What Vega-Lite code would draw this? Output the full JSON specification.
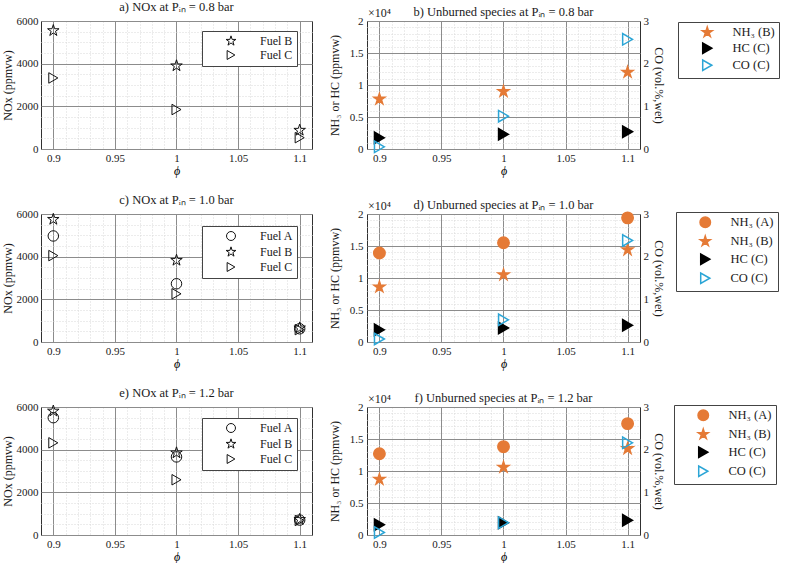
{
  "$schema": "https://vega.github.io/schema/vega-lite/v6.json",
  "padding": {"left": 0, "top": 0, "right": 2, "bottom": 0},
  "background": "white",
  "datasets": {
    "nox": [
      {"p": "0.8", "fuel": "Fuel B", "phi": 0.9, "nox": 5550},
      {"p": "0.8", "fuel": "Fuel B", "phi": 1.0, "nox": 3900},
      {"p": "0.8", "fuel": "Fuel B", "phi": 1.1, "nox": 880},
      {"p": "0.8", "fuel": "Fuel C", "phi": 0.9, "nox": 3330},
      {"p": "0.8", "fuel": "Fuel C", "phi": 1.0, "nox": 1850},
      {"p": "0.8", "fuel": "Fuel C", "phi": 1.1, "nox": 530},
      {"p": "1.0", "fuel": "Fuel A", "phi": 0.9, "nox": 4970},
      {"p": "1.0", "fuel": "Fuel A", "phi": 1.0, "nox": 2730},
      {"p": "1.0", "fuel": "Fuel A", "phi": 1.1, "nox": 620},
      {"p": "1.0", "fuel": "Fuel B", "phi": 0.9, "nox": 5750},
      {"p": "1.0", "fuel": "Fuel B", "phi": 1.0, "nox": 3830},
      {"p": "1.0", "fuel": "Fuel B", "phi": 1.1, "nox": 660},
      {"p": "1.0", "fuel": "Fuel C", "phi": 0.9, "nox": 4050},
      {"p": "1.0", "fuel": "Fuel C", "phi": 1.0, "nox": 2260},
      {"p": "1.0", "fuel": "Fuel C", "phi": 1.1, "nox": 580},
      {"p": "1.2", "fuel": "Fuel A", "phi": 0.9, "nox": 5500},
      {"p": "1.2", "fuel": "Fuel A", "phi": 1.0, "nox": 3660},
      {"p": "1.2", "fuel": "Fuel A", "phi": 1.1, "nox": 700},
      {"p": "1.2", "fuel": "Fuel B", "phi": 0.9, "nox": 5810},
      {"p": "1.2", "fuel": "Fuel B", "phi": 1.0, "nox": 3850},
      {"p": "1.2", "fuel": "Fuel B", "phi": 1.1, "nox": 730},
      {"p": "1.2", "fuel": "Fuel C", "phi": 0.9, "nox": 4320},
      {"p": "1.2", "fuel": "Fuel C", "phi": 1.0, "nox": 2590},
      {"p": "1.2", "fuel": "Fuel C", "phi": 1.1, "nox": 680}
    ],
    "unb": [
      {"p": "0.8", "species": "NH₃ (B)", "phi": 0.9, "value": 7800},
      {"p": "0.8", "species": "NH₃ (B)", "phi": 1.0, "value": 9000},
      {"p": "0.8", "species": "NH₃ (B)", "phi": 1.1, "value": 12000},
      {"p": "0.8", "species": "HC (C)", "phi": 0.9, "value": 1750},
      {"p": "0.8", "species": "HC (C)", "phi": 1.0, "value": 2300},
      {"p": "0.8", "species": "HC (C)", "phi": 1.1, "value": 2700},
      {"p": "0.8", "species": "CO (C)", "phi": 0.9, "value": 0.05},
      {"p": "0.8", "species": "CO (C)", "phi": 1.0, "value": 0.77},
      {"p": "0.8", "species": "CO (C)", "phi": 1.1, "value": 2.57},
      {"p": "1.0", "species": "NH₃ (A)", "phi": 0.9, "value": 13900},
      {"p": "1.0", "species": "NH₃ (A)", "phi": 1.0, "value": 15500},
      {"p": "1.0", "species": "NH₃ (A)", "phi": 1.1, "value": 19400},
      {"p": "1.0", "species": "NH₃ (B)", "phi": 0.9, "value": 8600},
      {"p": "1.0", "species": "NH₃ (B)", "phi": 1.0, "value": 10500},
      {"p": "1.0", "species": "NH₃ (B)", "phi": 1.1, "value": 14400},
      {"p": "1.0", "species": "HC (C)", "phi": 0.9, "value": 1900},
      {"p": "1.0", "species": "HC (C)", "phi": 1.0, "value": 2200},
      {"p": "1.0", "species": "HC (C)", "phi": 1.1, "value": 2600},
      {"p": "1.0", "species": "CO (C)", "phi": 0.9, "value": 0.07},
      {"p": "1.0", "species": "CO (C)", "phi": 1.0, "value": 0.52},
      {"p": "1.0", "species": "CO (C)", "phi": 1.1, "value": 2.38},
      {"p": "1.2", "species": "NH₃ (A)", "phi": 0.9, "value": 12700},
      {"p": "1.2", "species": "NH₃ (A)", "phi": 1.0, "value": 13800},
      {"p": "1.2", "species": "NH₃ (A)", "phi": 1.1, "value": 17400},
      {"p": "1.2", "species": "NH₃ (B)", "phi": 0.9, "value": 8700},
      {"p": "1.2", "species": "NH₃ (B)", "phi": 1.0, "value": 10600},
      {"p": "1.2", "species": "NH₃ (B)", "phi": 1.1, "value": 13500},
      {"p": "1.2", "species": "HC (C)", "phi": 0.9, "value": 1600},
      {"p": "1.2", "species": "HC (C)", "phi": 1.0, "value": 1900},
      {"p": "1.2", "species": "HC (C)", "phi": 1.1, "value": 2300},
      {"p": "1.2", "species": "CO (C)", "phi": 0.9, "value": 0.06},
      {"p": "1.2", "species": "CO (C)", "phi": 1.0, "value": 0.29},
      {"p": "1.2", "species": "CO (C)", "phi": 1.1, "value": 2.16}
    ],
    "mult": [{"t": "×10⁴", "phi": 0.89, "value": 20000}]
  },
  "config": {
    "font": "Liberation Serif",
    "view": {"stroke": "#303030", "strokeWidth": 1},
    "axis": {
      "domain": false, "ticks": false, "labelFontSize": 11, "titleFontSize": 12,
      "titleFontWeight": "normal", "labelColor": "#1a1a1a", "titleColor": "#1a1a1a",
      "labelOverlap": false, "labelFlush": false, "labelFont": "Liberation Serif", "titleFont": "Liberation Serif"
    },
    "axisX": {"titleColor": "#000000"},
    "title": {"fontSize": 12.5, "fontWeight": "normal", "offset": 2, "color": "#1a1a1a", "font": "Liberation Serif"},
    "legend": {"labelFontSize": 12, "labelFont": "Liberation Serif", "labelColor": "#1a1a1a"}
  },
  "resolve": {
    "scale": {"shape": "independent", "fill": "independent", "stroke": "independent"},
    "legend": {"shape": "independent", "fill": "independent", "stroke": "independent"}
  },
  "vconcat": [
    {
      "resolve": {
        "scale": {"shape": "independent", "fill": "independent", "stroke": "independent"},
        "legend": {"shape": "independent", "fill": "independent", "stroke": "independent"}
      },
      "hconcat": [
        {
          "width": 271, "height": 128,
          "title": "a) NOx at Pᵢₙ = 0.8 bar",
          "data": {"name": "nox"},
          "transform": [{"filter": "datum.p == '0.8'"}],
          "mark": {"type": "point", "size": 110, "strokeWidth": 1, "filled": false, "color": "#111", "opacity": 1},
          "encoding": {
            "x": {"field": "phi", "type": "quantitative", "scale": {"domain": [0.89, 1.11], "nice": false, "zero": false},
              "axis": {"values": [0.9,0.91,0.92,0.93,0.94,0.95,0.96,0.97,0.98,0.99,1,1.01,1.02,1.03,1.04,1.05,1.06,1.07,1.08,1.09,1.1], "format": "~g",
                "labelExpr": "abs(datum.value*20-round(datum.value*20))<1e-6 ? datum.label : ''",
                "title": "ϕ", "titleFontStyle": "italic", "labelPadding": 3, "titlePadding": 2,
                "gridColor": {"condition": {"test": "abs(datum.value*20-round(datum.value*20))<1e-6", "value": "#8c8c8c"}, "value": "#d9d9d9"},
                "gridDash": {"condition": {"test": "abs(datum.value*20-round(datum.value*20))<1e-6", "value": []}, "value": [1, 2]}}},
            "y": {"field": "nox", "type": "quantitative", "scale": {"domain": [0, 6000], "nice": false},
              "axis": {"values": [0,500,1000,1500,2000,2500,3000,3500,4000,4500,5000,5500,6000], "format": "d",
                "labelExpr": "datum.value % 2000 == 0 ? datum.label : ''",
                "title": "NOx (ppmvw)", "labelPadding": 3, "titlePadding": 2,
                "gridColor": {"condition": {"test": "datum.value % 2000 == 0", "value": "#8c8c8c"}, "value": "#d9d9d9"},
                "gridDash": {"condition": {"test": "datum.value % 2000 == 0", "value": []}, "value": [1, 2]}}},
            "shape": {"field": "fuel", "type": "nominal",
              "scale": {"domain": ["Fuel B", "Fuel C"], "range": ["M0,-1.15L0.258,-0.355L1.094,-0.355L0.417,0.136L0.676,0.93L0,0.439L-0.676,0.93L-0.417,0.136L-1.094,-0.355L-0.258,-0.355Z", "triangle-right"]},
              "legend": {"title": null, "orient": "none", "legendX": 161, "legendY": 10, "strokeColor": "#444", "fillColor": "#fff", "padding": 4, "symbolOffset": 19, "labelOffset": 23, "rowPadding": 0, "symbolSize": 80, "symbolStrokeWidth": 1, "symbolStrokeColor": "#111", "symbolFillColor": "transparent"}}
          }
        },
        {
          "width": 273, "height": 128,
          "title": {"text": "b) Unburned species at Pᵢₙ = 0.8 bar", "offset": -11},
          "layer": [
            {
              "layer": [
                {
                  "data": {"name": "unb"},
                  "transform": [{"filter": "datum.p == '0.8' && datum.species != 'CO (C)'"}],
                  "mark": {"type": "point", "size": 130, "strokeWidth": 1.5, "opacity": 1},
                  "encoding": {
                    "x": {"field": "phi", "type": "quantitative", "scale": {"domain": [0.89, 1.11], "nice": false, "zero": false},
                      "axis": {"values": [0.9,0.91,0.92,0.93,0.94,0.95,0.96,0.97,0.98,0.99,1,1.01,1.02,1.03,1.04,1.05,1.06,1.07,1.08,1.09,1.1], "format": "~g",
                        "labelExpr": "abs(datum.value*20-round(datum.value*20))<1e-6 ? datum.label : ''",
                        "title": "ϕ", "titleFontStyle": "italic", "labelPadding": 3, "titlePadding": 2,
                        "gridColor": {"condition": {"test": "abs(datum.value*20-round(datum.value*20))<1e-6", "value": "#8c8c8c"}, "value": "#d9d9d9"},
                        "gridDash": {"condition": {"test": "abs(datum.value*20-round(datum.value*20))<1e-6", "value": []}, "value": [1, 2]}}},
                    "y": {"field": "value", "type": "quantitative", "scale": {"domain": [0, 20000], "nice": false},
                      "axis": {"orient": "left", "values": [0,1000,2000,3000,4000,5000,6000,7000,8000,9000,10000,11000,12000,13000,14000,15000,16000,17000,18000,19000,20000],
                        "labelExpr": "datum.value % 5000 == 0 ? format(datum.value/10000, '~g') : ''",
                        "title": "NH₃ or HC (ppmvw)", "labelPadding": 4, "titlePadding": 8,
                        "gridColor": {"condition": {"test": "datum.value % 5000 == 0", "value": "#8c8c8c"}, "value": "#d9d9d9"},
                        "gridDash": {"condition": {"test": "datum.value % 5000 == 0", "value": []}, "value": [1, 2]}}},
                    "shape": {"field": "species", "type": "nominal", "scale": {"domain": ["NH₃ (B)", "HC (C)", "CO (C)"], "range": ["M0,-1L0.225,-0.309L0.951,-0.309L0.363,0.118L0.588,0.809L0,0.382L-0.588,0.809L-0.363,0.118L-0.951,-0.309L-0.225,-0.309Z", "triangle-right", "triangle-right"]},
                      "legend": {"title": null, "orient": "none", "legendX": 311, "legendY": 1, "strokeColor": "#444", "fillColor": "#fff", "padding": 4, "symbolOffset": 19, "labelOffset": 19, "rowPadding": 0, "symbolSize": 110, "symbolStrokeWidth": 1.5, "labelFontSize": 12.5}},
                    "fill": {"field": "species", "type": "nominal", "scale": {"domain": ["NH₃ (B)", "HC (C)", "CO (C)"], "range": ["#E57A36", "#000000", "transparent"]},
                      "legend": {"title": null, "orient": "none", "legendX": 311, "legendY": 1, "strokeColor": "#444", "fillColor": "#fff", "padding": 4, "symbolOffset": 19, "labelOffset": 19, "rowPadding": 0, "symbolSize": 110, "symbolStrokeWidth": 1.5, "labelFontSize": 12.5}},
                    "stroke": {"field": "species", "type": "nominal", "scale": {"domain": ["NH₃ (B)", "HC (C)", "CO (C)"], "range": ["#E57A36", "#000000", "#2BA5D6"]},
                      "legend": {"title": null, "orient": "none", "legendX": 311, "legendY": 1, "strokeColor": "#444", "fillColor": "#fff", "padding": 4, "symbolOffset": 19, "labelOffset": 19, "rowPadding": 0, "symbolSize": 110, "symbolStrokeWidth": 1.5, "labelFontSize": 12.5}}
                  }
                },
                {
                  "data": {"name": "mult"},
                  "mark": {"type": "text", "align": "left", "baseline": "bottom", "dy": -1, "dx": 1, "fontSize": 12, "color": "#1a1a1a"},
                  "encoding": {
                    "x": {"field": "phi", "type": "quantitative", "scale": {"domain": [0.89, 1.11], "nice": false, "zero": false},
                      "axis": {"values": [0.9,0.91,0.92,0.93,0.94,0.95,0.96,0.97,0.98,0.99,1,1.01,1.02,1.03,1.04,1.05,1.06,1.07,1.08,1.09,1.1], "format": "~g",
                        "labelExpr": "abs(datum.value*20-round(datum.value*20))<1e-6 ? datum.label : ''",
                        "title": "ϕ", "titleFontStyle": "italic", "labelPadding": 3, "titlePadding": 2,
                        "gridColor": {"condition": {"test": "abs(datum.value*20-round(datum.value*20))<1e-6", "value": "#8c8c8c"}, "value": "#d9d9d9"},
                        "gridDash": {"condition": {"test": "abs(datum.value*20-round(datum.value*20))<1e-6", "value": []}, "value": [1, 2]}}},
                    "y": {"field": "value", "type": "quantitative", "scale": {"domain": [0, 20000], "nice": false},
                      "axis": {"orient": "left", "values": [0,1000,2000,3000,4000,5000,6000,7000,8000,9000,10000,11000,12000,13000,14000,15000,16000,17000,18000,19000,20000],
                        "labelExpr": "datum.value % 5000 == 0 ? format(datum.value/10000, '~g') : ''",
                        "title": "NH₃ or HC (ppmvw)", "labelPadding": 4, "titlePadding": 8,
                        "gridColor": {"condition": {"test": "datum.value % 5000 == 0", "value": "#8c8c8c"}, "value": "#d9d9d9"},
                        "gridDash": {"condition": {"test": "datum.value % 5000 == 0", "value": []}, "value": [1, 2]}}},
                    "text": {"field": "t"}
                  }
                }
              ]
            },
            {
              "data": {"name": "unb"},
              "transform": [{"filter": "datum.p == '0.8' && datum.species == 'CO (C)'"}],
              "mark": {"type": "point", "size": 130, "strokeWidth": 1.5, "opacity": 1},
              "encoding": {
                "x": {"field": "phi", "type": "quantitative", "scale": {"domain": [0.89, 1.11], "nice": false, "zero": false},
                  "axis": {"values": [0.9,0.91,0.92,0.93,0.94,0.95,0.96,0.97,0.98,0.99,1,1.01,1.02,1.03,1.04,1.05,1.06,1.07,1.08,1.09,1.1], "format": "~g",
                    "labelExpr": "abs(datum.value*20-round(datum.value*20))<1e-6 ? datum.label : ''",
                    "title": "ϕ", "titleFontStyle": "italic", "labelPadding": 3, "titlePadding": 2,
                    "gridColor": {"condition": {"test": "abs(datum.value*20-round(datum.value*20))<1e-6", "value": "#8c8c8c"}, "value": "#d9d9d9"},
                    "gridDash": {"condition": {"test": "abs(datum.value*20-round(datum.value*20))<1e-6", "value": []}, "value": [1, 2]}}},
                "y": {"field": "value", "type": "quantitative", "scale": {"domain": [0, 3], "nice": false},
                  "axis": {"orient": "right", "values": [0, 1, 2, 3], "format": "d", "grid": false, "title": "CO (vol.%,wet)", "labelPadding": 3, "titlePadding": 3}},
                "shape": {"field": "species", "type": "nominal"},
                "fill": {"field": "species", "type": "nominal"},
                "stroke": {"field": "species", "type": "nominal"}
              }
            }
          ],
          "resolve": {"scale": {"y": "independent"}}
        }
      ],
      "spacing": 14
    },
    {
      "resolve": {
        "scale": {"shape": "independent", "fill": "independent", "stroke": "independent"},
        "legend": {"shape": "independent", "fill": "independent", "stroke": "independent"}
      },
      "hconcat": [
        {
          "width": 271, "height": 128,
          "title": "c) NOx at Pᵢₙ = 1.0 bar",
          "data": {"name": "nox"},
          "transform": [{"filter": "datum.p == '1.0'"}],
          "mark": {"type": "point", "size": 110, "strokeWidth": 1, "filled": false, "color": "#111", "opacity": 1},
          "encoding": {
            "x": {"field": "phi", "type": "quantitative", "scale": {"domain": [0.89, 1.11], "nice": false, "zero": false},
              "axis": {"values": [0.9,0.91,0.92,0.93,0.94,0.95,0.96,0.97,0.98,0.99,1,1.01,1.02,1.03,1.04,1.05,1.06,1.07,1.08,1.09,1.1], "format": "~g",
                "labelExpr": "abs(datum.value*20-round(datum.value*20))<1e-6 ? datum.label : ''",
                "title": "ϕ", "titleFontStyle": "italic", "labelPadding": 3, "titlePadding": 2,
                "gridColor": {"condition": {"test": "abs(datum.value*20-round(datum.value*20))<1e-6", "value": "#8c8c8c"}, "value": "#d9d9d9"},
                "gridDash": {"condition": {"test": "abs(datum.value*20-round(datum.value*20))<1e-6", "value": []}, "value": [1, 2]}}},
            "y": {"field": "nox", "type": "quantitative", "scale": {"domain": [0, 6000], "nice": false},
              "axis": {"values": [0,500,1000,1500,2000,2500,3000,3500,4000,4500,5000,5500,6000], "format": "d",
                "labelExpr": "datum.value % 2000 == 0 ? datum.label : ''",
                "title": "NOx (ppmvw)", "labelPadding": 3, "titlePadding": 2,
                "gridColor": {"condition": {"test": "datum.value % 2000 == 0", "value": "#8c8c8c"}, "value": "#d9d9d9"},
                "gridDash": {"condition": {"test": "datum.value % 2000 == 0", "value": []}, "value": [1, 2]}}},
            "shape": {"field": "fuel", "type": "nominal",
              "scale": {"domain": ["Fuel A", "Fuel B", "Fuel C"], "range": ["circle", "M0,-1.15L0.258,-0.355L1.094,-0.355L0.417,0.136L0.676,0.93L0,0.439L-0.676,0.93L-0.417,0.136L-1.094,-0.355L-0.258,-0.355Z", "triangle-right"]},
              "legend": {"title": null, "orient": "none", "legendX": 161, "legendY": 12, "strokeColor": "#444", "fillColor": "#fff", "padding": 4, "symbolOffset": 19, "labelOffset": 23, "rowPadding": 1, "symbolSize": 80, "symbolStrokeWidth": 1, "symbolStrokeColor": "#111", "symbolFillColor": "transparent"}}
          }
        },
        {
          "width": 273, "height": 128,
          "title": {"text": "d) Unburned species at Pᵢₙ = 1.0 bar", "offset": -11},
          "layer": [
            {
              "layer": [
                {
                  "data": {"name": "unb"},
                  "transform": [{"filter": "datum.p == '1.0' && datum.species != 'CO (C)'"}],
                  "mark": {"type": "point", "size": 130, "strokeWidth": 1.5, "opacity": 1},
                  "encoding": {
                    "x": {"field": "phi", "type": "quantitative", "scale": {"domain": [0.89, 1.11], "nice": false, "zero": false},
                      "axis": {"values": [0.9,0.91,0.92,0.93,0.94,0.95,0.96,0.97,0.98,0.99,1,1.01,1.02,1.03,1.04,1.05,1.06,1.07,1.08,1.09,1.1], "format": "~g",
                        "labelExpr": "abs(datum.value*20-round(datum.value*20))<1e-6 ? datum.label : ''",
                        "title": "ϕ", "titleFontStyle": "italic", "labelPadding": 3, "titlePadding": 2,
                        "gridColor": {"condition": {"test": "abs(datum.value*20-round(datum.value*20))<1e-6", "value": "#8c8c8c"}, "value": "#d9d9d9"},
                        "gridDash": {"condition": {"test": "abs(datum.value*20-round(datum.value*20))<1e-6", "value": []}, "value": [1, 2]}}},
                    "y": {"field": "value", "type": "quantitative", "scale": {"domain": [0, 20000], "nice": false},
                      "axis": {"orient": "left", "values": [0,1000,2000,3000,4000,5000,6000,7000,8000,9000,10000,11000,12000,13000,14000,15000,16000,17000,18000,19000,20000],
                        "labelExpr": "datum.value % 5000 == 0 ? format(datum.value/10000, '~g') : ''",
                        "title": "NH₃ or HC (ppmvw)", "labelPadding": 4, "titlePadding": 8,
                        "gridColor": {"condition": {"test": "datum.value % 5000 == 0", "value": "#8c8c8c"}, "value": "#d9d9d9"},
                        "gridDash": {"condition": {"test": "datum.value % 5000 == 0", "value": []}, "value": [1, 2]}}},
                    "shape": {"field": "species", "type": "nominal", "scale": {"domain": ["NH₃ (A)", "NH₃ (B)", "HC (C)", "CO (C)"], "range": ["circle", "M0,-1L0.225,-0.309L0.951,-0.309L0.363,0.118L0.588,0.809L0,0.382L-0.588,0.809L-0.363,0.118L-0.951,-0.309L-0.225,-0.309Z", "triangle-right", "triangle-right"]},
                      "legend": {"title": null, "orient": "none", "legendX": 309, "legendY": -2, "strokeColor": "#444", "fillColor": "#fff", "padding": 4, "symbolOffset": 19, "labelOffset": 19, "rowPadding": 2, "symbolSize": 110, "symbolStrokeWidth": 1.5, "labelFontSize": 12.5}},
                    "fill": {"field": "species", "type": "nominal", "scale": {"domain": ["NH₃ (A)", "NH₃ (B)", "HC (C)", "CO (C)"], "range": ["#E57A36", "#E57A36", "#000000", "transparent"]},
                      "legend": {"title": null, "orient": "none", "legendX": 309, "legendY": -2, "strokeColor": "#444", "fillColor": "#fff", "padding": 4, "symbolOffset": 19, "labelOffset": 19, "rowPadding": 2, "symbolSize": 110, "symbolStrokeWidth": 1.5, "labelFontSize": 12.5}},
                    "stroke": {"field": "species", "type": "nominal", "scale": {"domain": ["NH₃ (A)", "NH₃ (B)", "HC (C)", "CO (C)"], "range": ["#E57A36", "#E57A36", "#000000", "#2BA5D6"]},
                      "legend": {"title": null, "orient": "none", "legendX": 309, "legendY": -2, "strokeColor": "#444", "fillColor": "#fff", "padding": 4, "symbolOffset": 19, "labelOffset": 19, "rowPadding": 2, "symbolSize": 110, "symbolStrokeWidth": 1.5, "labelFontSize": 12.5}}
                  }
                },
                {
                  "data": {"name": "mult"},
                  "mark": {"type": "text", "align": "left", "baseline": "bottom", "dy": -1, "dx": 1, "fontSize": 12, "color": "#1a1a1a"},
                  "encoding": {
                    "x": {"field": "phi", "type": "quantitative", "scale": {"domain": [0.89, 1.11], "nice": false, "zero": false},
                      "axis": {"values": [0.9,0.91,0.92,0.93,0.94,0.95,0.96,0.97,0.98,0.99,1,1.01,1.02,1.03,1.04,1.05,1.06,1.07,1.08,1.09,1.1], "format": "~g",
                        "labelExpr": "abs(datum.value*20-round(datum.value*20))<1e-6 ? datum.label : ''",
                        "title": "ϕ", "titleFontStyle": "italic", "labelPadding": 3, "titlePadding": 2,
                        "gridColor": {"condition": {"test": "abs(datum.value*20-round(datum.value*20))<1e-6", "value": "#8c8c8c"}, "value": "#d9d9d9"},
                        "gridDash": {"condition": {"test": "abs(datum.value*20-round(datum.value*20))<1e-6", "value": []}, "value": [1, 2]}}},
                    "y": {"field": "value", "type": "quantitative", "scale": {"domain": [0, 20000], "nice": false},
                      "axis": {"orient": "left", "values": [0,1000,2000,3000,4000,5000,6000,7000,8000,9000,10000,11000,12000,13000,14000,15000,16000,17000,18000,19000,20000],
                        "labelExpr": "datum.value % 5000 == 0 ? format(datum.value/10000, '~g') : ''",
                        "title": "NH₃ or HC (ppmvw)", "labelPadding": 4, "titlePadding": 8,
                        "gridColor": {"condition": {"test": "datum.value % 5000 == 0", "value": "#8c8c8c"}, "value": "#d9d9d9"},
                        "gridDash": {"condition": {"test": "datum.value % 5000 == 0", "value": []}, "value": [1, 2]}}},
                    "text": {"field": "t"}
                  }
                }
              ]
            },
            {
              "data": {"name": "unb"},
              "transform": [{"filter": "datum.p == '1.0' && datum.species == 'CO (C)'"}],
              "mark": {"type": "point", "size": 130, "strokeWidth": 1.5, "opacity": 1},
              "encoding": {
                "x": {"field": "phi", "type": "quantitative", "scale": {"domain": [0.89, 1.11], "nice": false, "zero": false},
                  "axis": {"values": [0.9,0.91,0.92,0.93,0.94,0.95,0.96,0.97,0.98,0.99,1,1.01,1.02,1.03,1.04,1.05,1.06,1.07,1.08,1.09,1.1], "format": "~g",
                    "labelExpr": "abs(datum.value*20-round(datum.value*20))<1e-6 ? datum.label : ''",
                    "title": "ϕ", "titleFontStyle": "italic", "labelPadding": 3, "titlePadding": 2,
                    "gridColor": {"condition": {"test": "abs(datum.value*20-round(datum.value*20))<1e-6", "value": "#8c8c8c"}, "value": "#d9d9d9"},
                    "gridDash": {"condition": {"test": "abs(datum.value*20-round(datum.value*20))<1e-6", "value": []}, "value": [1, 2]}}},
                "y": {"field": "value", "type": "quantitative", "scale": {"domain": [0, 3], "nice": false},
                  "axis": {"orient": "right", "values": [0, 1, 2, 3], "format": "d", "grid": false, "title": "CO (vol.%,wet)", "labelPadding": 3, "titlePadding": 3}},
                "shape": {"field": "species", "type": "nominal"},
                "fill": {"field": "species", "type": "nominal"},
                "stroke": {"field": "species", "type": "nominal"}
              }
            }
          ],
          "resolve": {"scale": {"y": "independent"}}
        }
      ],
      "spacing": 14
    },
    {
      "resolve": {
        "scale": {"shape": "independent", "fill": "independent", "stroke": "independent"},
        "legend": {"shape": "independent", "fill": "independent", "stroke": "independent"}
      },
      "hconcat": [
        {
          "width": 271, "height": 128,
          "title": "e) NOx at Pᵢₙ = 1.2 bar",
          "data": {"name": "nox"},
          "transform": [{"filter": "datum.p == '1.2'"}],
          "mark": {"type": "point", "size": 110, "strokeWidth": 1, "filled": false, "color": "#111", "opacity": 1},
          "encoding": {
            "x": {"field": "phi", "type": "quantitative", "scale": {"domain": [0.89, 1.11], "nice": false, "zero": false},
              "axis": {"values": [0.9,0.91,0.92,0.93,0.94,0.95,0.96,0.97,0.98,0.99,1,1.01,1.02,1.03,1.04,1.05,1.06,1.07,1.08,1.09,1.1], "format": "~g",
                "labelExpr": "abs(datum.value*20-round(datum.value*20))<1e-6 ? datum.label : ''",
                "title": "ϕ", "titleFontStyle": "italic", "labelPadding": 3, "titlePadding": 2,
                "gridColor": {"condition": {"test": "abs(datum.value*20-round(datum.value*20))<1e-6", "value": "#8c8c8c"}, "value": "#d9d9d9"},
                "gridDash": {"condition": {"test": "abs(datum.value*20-round(datum.value*20))<1e-6", "value": []}, "value": [1, 2]}}},
            "y": {"field": "nox", "type": "quantitative", "scale": {"domain": [0, 6000], "nice": false},
              "axis": {"values": [0,500,1000,1500,2000,2500,3000,3500,4000,4500,5000,5500,6000], "format": "d",
                "labelExpr": "datum.value % 2000 == 0 ? datum.label : ''",
                "title": "NOx (ppmvw)", "labelPadding": 3, "titlePadding": 2,
                "gridColor": {"condition": {"test": "datum.value % 2000 == 0", "value": "#8c8c8c"}, "value": "#d9d9d9"},
                "gridDash": {"condition": {"test": "datum.value % 2000 == 0", "value": []}, "value": [1, 2]}}},
            "shape": {"field": "fuel", "type": "nominal",
              "scale": {"domain": ["Fuel A", "Fuel B", "Fuel C"], "range": ["circle", "M0,-1.15L0.258,-0.355L1.094,-0.355L0.417,0.136L0.676,0.93L0,0.439L-0.676,0.93L-0.417,0.136L-1.094,-0.355L-0.258,-0.355Z", "triangle-right"]},
              "legend": {"title": null, "orient": "none", "legendX": 161, "legendY": 11, "strokeColor": "#444", "fillColor": "#fff", "padding": 4, "symbolOffset": 19, "labelOffset": 23, "rowPadding": 1, "symbolSize": 80, "symbolStrokeWidth": 1, "symbolStrokeColor": "#111", "symbolFillColor": "transparent"}}
          }
        },
        {
          "width": 273, "height": 128,
          "title": {"text": "f) Unburned species at Pᵢₙ = 1.2 bar", "offset": -11},
          "layer": [
            {
              "layer": [
                {
                  "data": {"name": "unb"},
                  "transform": [{"filter": "datum.p == '1.2' && datum.species != 'CO (C)'"}],
                  "mark": {"type": "point", "size": 130, "strokeWidth": 1.5, "opacity": 1},
                  "encoding": {
                    "x": {"field": "phi", "type": "quantitative", "scale": {"domain": [0.89, 1.11], "nice": false, "zero": false},
                      "axis": {"values": [0.9,0.91,0.92,0.93,0.94,0.95,0.96,0.97,0.98,0.99,1,1.01,1.02,1.03,1.04,1.05,1.06,1.07,1.08,1.09,1.1], "format": "~g",
                        "labelExpr": "abs(datum.value*20-round(datum.value*20))<1e-6 ? datum.label : ''",
                        "title": "ϕ", "titleFontStyle": "italic", "labelPadding": 3, "titlePadding": 2,
                        "gridColor": {"condition": {"test": "abs(datum.value*20-round(datum.value*20))<1e-6", "value": "#8c8c8c"}, "value": "#d9d9d9"},
                        "gridDash": {"condition": {"test": "abs(datum.value*20-round(datum.value*20))<1e-6", "value": []}, "value": [1, 2]}}},
                    "y": {"field": "value", "type": "quantitative", "scale": {"domain": [0, 20000], "nice": false},
                      "axis": {"orient": "left", "values": [0,1000,2000,3000,4000,5000,6000,7000,8000,9000,10000,11000,12000,13000,14000,15000,16000,17000,18000,19000,20000],
                        "labelExpr": "datum.value % 5000 == 0 ? format(datum.value/10000, '~g') : ''",
                        "title": "NH₃ or HC (ppmvw)", "labelPadding": 4, "titlePadding": 8,
                        "gridColor": {"condition": {"test": "datum.value % 5000 == 0", "value": "#8c8c8c"}, "value": "#d9d9d9"},
                        "gridDash": {"condition": {"test": "datum.value % 5000 == 0", "value": []}, "value": [1, 2]}}},
                    "shape": {"field": "species", "type": "nominal", "scale": {"domain": ["NH₃ (A)", "NH₃ (B)", "HC (C)", "CO (C)"], "range": ["circle", "M0,-1L0.225,-0.309L0.951,-0.309L0.363,0.118L0.588,0.809L0,0.382L-0.588,0.809L-0.363,0.118L-0.951,-0.309L-0.225,-0.309Z", "triangle-right", "triangle-right"]},
                      "legend": {"title": null, "orient": "none", "legendX": 307, "legendY": -2, "strokeColor": "#444", "fillColor": "#fff", "padding": 4, "symbolOffset": 19, "labelOffset": 19, "rowPadding": 2, "symbolSize": 110, "symbolStrokeWidth": 1.5, "labelFontSize": 12.5}},
                    "fill": {"field": "species", "type": "nominal", "scale": {"domain": ["NH₃ (A)", "NH₃ (B)", "HC (C)", "CO (C)"], "range": ["#E57A36", "#E57A36", "#000000", "transparent"]},
                      "legend": {"title": null, "orient": "none", "legendX": 307, "legendY": -2, "strokeColor": "#444", "fillColor": "#fff", "padding": 4, "symbolOffset": 19, "labelOffset": 19, "rowPadding": 2, "symbolSize": 110, "symbolStrokeWidth": 1.5, "labelFontSize": 12.5}},
                    "stroke": {"field": "species", "type": "nominal", "scale": {"domain": ["NH₃ (A)", "NH₃ (B)", "HC (C)", "CO (C)"], "range": ["#E57A36", "#E57A36", "#000000", "#2BA5D6"]},
                      "legend": {"title": null, "orient": "none", "legendX": 307, "legendY": -2, "strokeColor": "#444", "fillColor": "#fff", "padding": 4, "symbolOffset": 19, "labelOffset": 19, "rowPadding": 2, "symbolSize": 110, "symbolStrokeWidth": 1.5, "labelFontSize": 12.5}}
                  }
                },
                {
                  "data": {"name": "mult"},
                  "mark": {"type": "text", "align": "left", "baseline": "bottom", "dy": -1, "dx": 1, "fontSize": 12, "color": "#1a1a1a"},
                  "encoding": {
                    "x": {"field": "phi", "type": "quantitative", "scale": {"domain": [0.89, 1.11], "nice": false, "zero": false},
                      "axis": {"values": [0.9,0.91,0.92,0.93,0.94,0.95,0.96,0.97,0.98,0.99,1,1.01,1.02,1.03,1.04,1.05,1.06,1.07,1.08,1.09,1.1], "format": "~g",
                        "labelExpr": "abs(datum.value*20-round(datum.value*20))<1e-6 ? datum.label : ''",
                        "title": "ϕ", "titleFontStyle": "italic", "labelPadding": 3, "titlePadding": 2,
                        "gridColor": {"condition": {"test": "abs(datum.value*20-round(datum.value*20))<1e-6", "value": "#8c8c8c"}, "value": "#d9d9d9"},
                        "gridDash": {"condition": {"test": "abs(datum.value*20-round(datum.value*20))<1e-6", "value": []}, "value": [1, 2]}}},
                    "y": {"field": "value", "type": "quantitative", "scale": {"domain": [0, 20000], "nice": false},
                      "axis": {"orient": "left", "values": [0,1000,2000,3000,4000,5000,6000,7000,8000,9000,10000,11000,12000,13000,14000,15000,16000,17000,18000,19000,20000],
                        "labelExpr": "datum.value % 5000 == 0 ? format(datum.value/10000, '~g') : ''",
                        "title": "NH₃ or HC (ppmvw)", "labelPadding": 4, "titlePadding": 8,
                        "gridColor": {"condition": {"test": "datum.value % 5000 == 0", "value": "#8c8c8c"}, "value": "#d9d9d9"},
                        "gridDash": {"condition": {"test": "datum.value % 5000 == 0", "value": []}, "value": [1, 2]}}},
                    "text": {"field": "t"}
                  }
                }
              ]
            },
            {
              "data": {"name": "unb"},
              "transform": [{"filter": "datum.p == '1.2' && datum.species == 'CO (C)'"}],
              "mark": {"type": "point", "size": 130, "strokeWidth": 1.5, "opacity": 1},
              "encoding": {
                "x": {"field": "phi", "type": "quantitative", "scale": {"domain": [0.89, 1.11], "nice": false, "zero": false},
                  "axis": {"values": [0.9,0.91,0.92,0.93,0.94,0.95,0.96,0.97,0.98,0.99,1,1.01,1.02,1.03,1.04,1.05,1.06,1.07,1.08,1.09,1.1], "format": "~g",
                    "labelExpr": "abs(datum.value*20-round(datum.value*20))<1e-6 ? datum.label : ''",
                    "title": "ϕ", "titleFontStyle": "italic", "labelPadding": 3, "titlePadding": 2,
                    "gridColor": {"condition": {"test": "abs(datum.value*20-round(datum.value*20))<1e-6", "value": "#8c8c8c"}, "value": "#d9d9d9"},
                    "gridDash": {"condition": {"test": "abs(datum.value*20-round(datum.value*20))<1e-6", "value": []}, "value": [1, 2]}}},
                "y": {"field": "value", "type": "quantitative", "scale": {"domain": [0, 3], "nice": false},
                  "axis": {"orient": "right", "values": [0, 1, 2, 3], "format": "d", "grid": false, "title": "CO (vol.%,wet)", "labelPadding": 3, "titlePadding": 3}},
                "shape": {"field": "species", "type": "nominal"},
                "fill": {"field": "species", "type": "nominal"},
                "stroke": {"field": "species", "type": "nominal"}
              }
            }
          ],
          "resolve": {"scale": {"y": "independent"}}
        }
      ],
      "spacing": 14
    }
  ],
  "spacing": 16
}
